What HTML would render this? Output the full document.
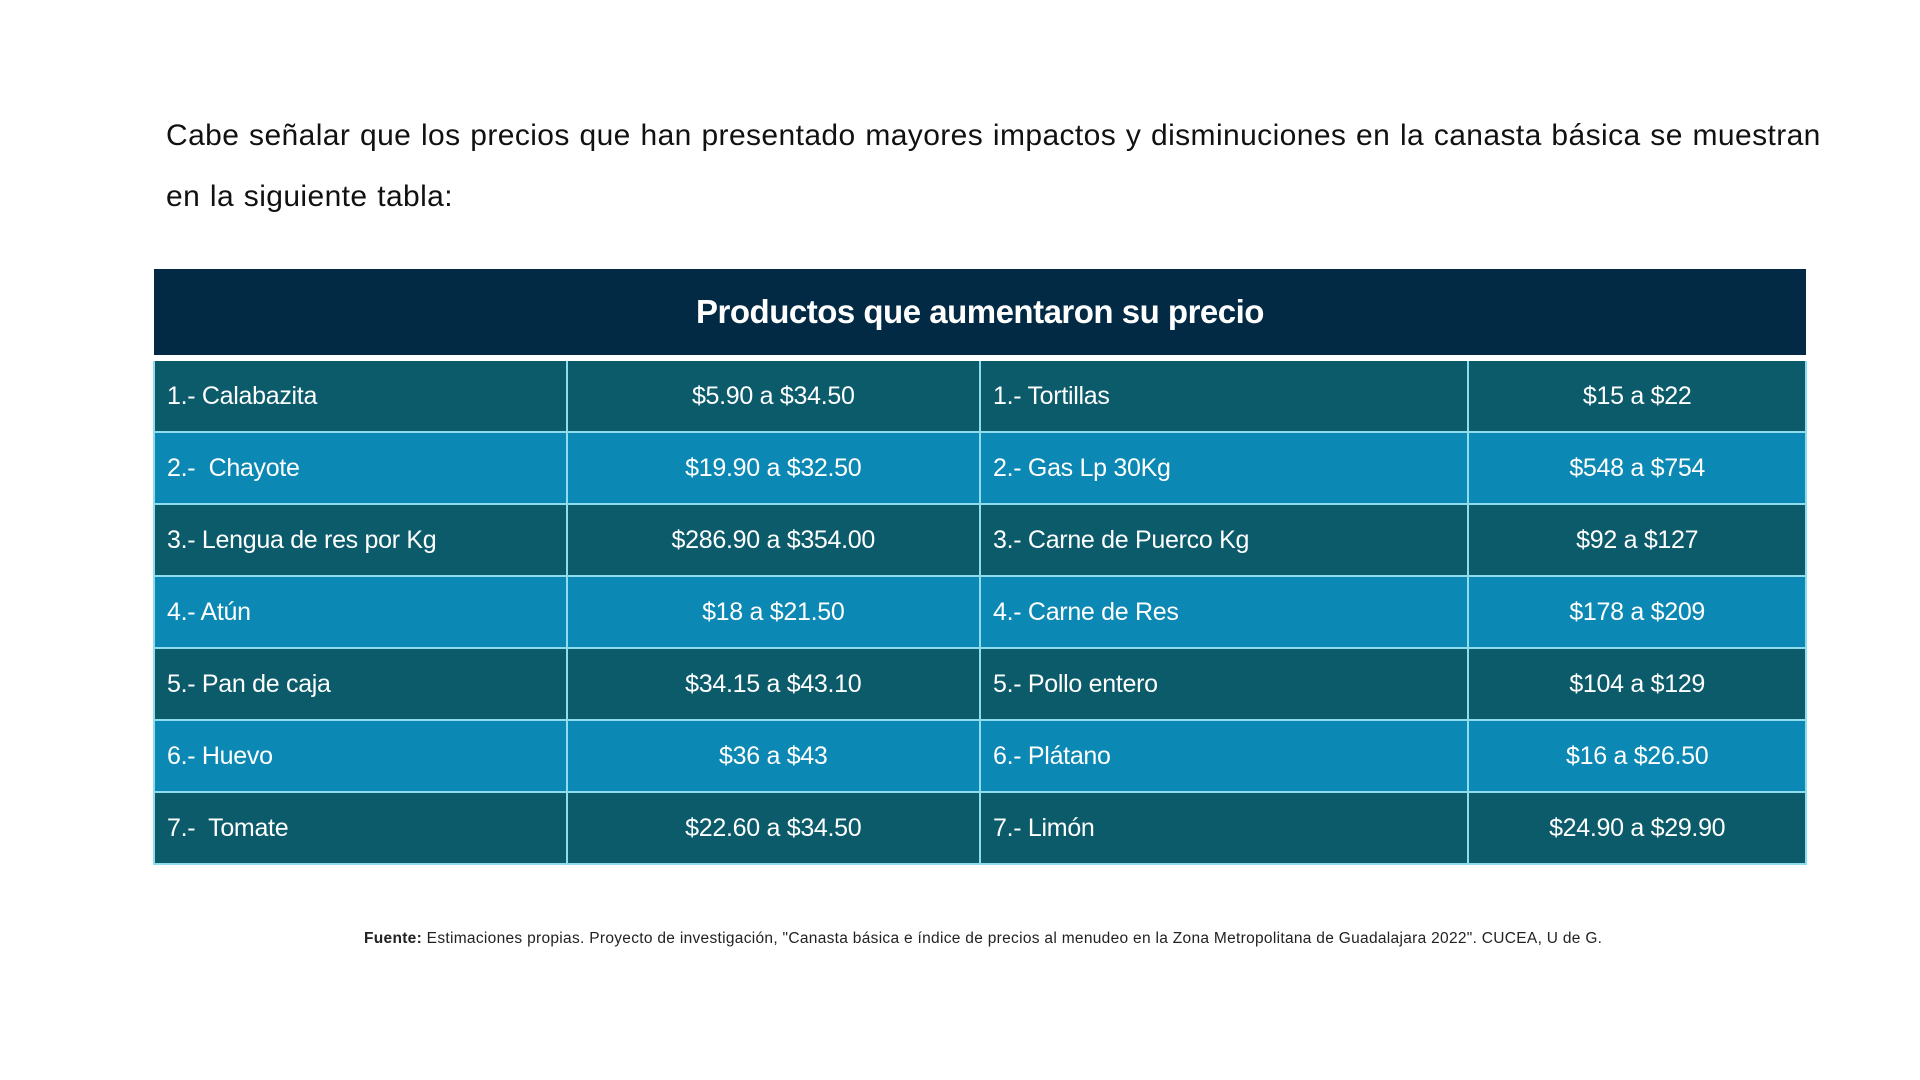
<!DOCTYPE html>
<html><head><meta charset="utf-8"><style>
body{margin:0;width:1920px;height:1080px;background:#fff;font-family:"Liberation Sans",sans-serif;position:relative;overflow:hidden}
.intro{position:absolute;left:166px;top:105px;width:1700px;font-size:30px;color:#111;line-height:61px;letter-spacing:0.4px;word-spacing:1px;white-space:nowrap}
table{position:absolute;left:153px;top:269px;width:1654px;border-collapse:collapse}
th{background:#032a44;color:#fff;font-size:33px;font-weight:bold;height:84px;border-bottom:6px solid #fff;letter-spacing:-0.5px}
td{height:70px;border:2px solid #8fdcf0;color:#fff;font-size:25px;padding:0 12px;letter-spacing:-0.3px}
tr.d td{background:#0b5b6b}
tr.l td{background:#0b88b3}
td.c{text-align:center}
.foot{position:absolute;left:364px;top:930px;font-size:15.5px;color:#222;letter-spacing:0.3px;white-space:nowrap}
</style></head><body>
<div class="intro">Cabe señalar que los precios que han presentado mayores impactos y disminuciones en la canasta básica se muestran<br>en la siguiente tabla:</div>
<table>
<colgroup><col style="width:413px"><col style="width:414px"><col style="width:489px"><col style="width:338px"></colgroup>
<tr><th colspan="4">Productos que aumentaron su precio</th></tr>
<tr class="d"><td>1.- Calabazita</td><td class="c">$5.90 a $34.50</td><td>1.- Tortillas</td><td class="c">$15 a $22</td></tr>
<tr class="l"><td>2.-&nbsp; Chayote</td><td class="c">$19.90 a $32.50</td><td>2.- Gas Lp 30Kg</td><td class="c">$548 a $754</td></tr>
<tr class="d"><td>3.- Lengua de res por Kg</td><td class="c">$286.90 a $354.00</td><td>3.- Carne de Puerco Kg</td><td class="c">$92 a $127</td></tr>
<tr class="l"><td>4.- Atún</td><td class="c">$18 a $21.50</td><td>4.- Carne de Res</td><td class="c">$178 a $209</td></tr>
<tr class="d"><td>5.- Pan de caja</td><td class="c">$34.15 a $43.10</td><td>5.- Pollo entero</td><td class="c">$104 a $129</td></tr>
<tr class="l"><td>6.- Huevo</td><td class="c">$36 a $43</td><td>6.- Plátano</td><td class="c">$16 a $26.50</td></tr>
<tr class="d"><td>7.-&nbsp; Tomate</td><td class="c">$22.60 a $34.50</td><td>7.- Limón</td><td class="c">$24.90 a $29.90</td></tr>
</table>
<div class="foot"><b>Fuente:</b> Estimaciones propias. Proyecto de investigación, "Canasta básica e índice de precios al menudeo en la Zona Metropolitana de Guadalajara 2022". CUCEA, U de G.</div>
</body></html>
